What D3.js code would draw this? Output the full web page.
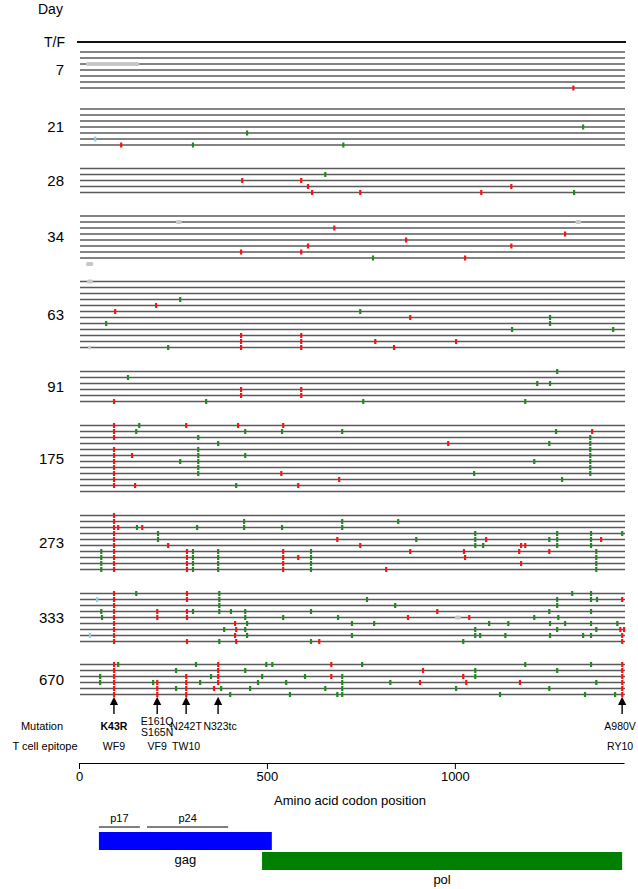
<!DOCTYPE html>
<html>
<head>
<meta charset="utf-8">
<script src="https://cdn.jsdelivr.net/npm/d3@7"></script>
<style>
  body { margin: 0; background: #fff; }
  svg text { font-family: "Liberation Sans", Arial, sans-serif; fill: #000; }
</style>
</head>
<body>
<div id="chart"></div>
<script>
var svgWidth = 638;
var svgHeight = 889;

// sampling days and number of sequences in each
var days = ["7", "21", "28", "34", "63", "91", "175", "273", "333", "670"];
var lineCounts = [7, 7, 5, 8, 12, 6, 12, 10, 9, 6];

// one string per sequence: r = red, g = green, c = cyan, x = grey gap (start:length)
var day7 = ["", "", "x19:141", "", "", "", "r1315"];
var day21 = ["", "", "", "g1341", "g447", "c43", "r112 g303 g703"];
var day28 = ["", "g655", "r434 r591", "r609 r1150", "r620 r748 r1070 g1317"];
var day34 = ["", "x258:15 x1321:15", "r679", "r1293", "r870", "r609 r1150",
  "r431 r591", "g782 r1027", "x19:19"];
var day63 = ["x21:16", "", "", "g269", "r205", "r96 g748", "r881 g1253", "g72 g1253",
  "g1152 g1421", "r431 r591", "r431 r591 r788 r1003", "x24:8 g237 r431 r591 r838"];
var day91 = ["g1272", "g130", "g1219 g1253", "r431 r591", "r431 r591", "r93 g338 g756 g1187"];
var day175 = [
  "r93 g160 r285 r423 r543",
  "r93 g152 g442 g540 g700 g1269 r1365",
  "r93 g317 g1360",
  "g370 r982 g1251 g1360",
  "r93 g317 g1360",
  "r93 r141 g317 g442 g1360",
  "r93 g269 g317 g1211 g1360",
  "r93 g317 g1360",
  "r93 g317 r538 g1051 g1360",
  "r93 r692 g1285",
  "r93 r149 g418 r583",
  ""
];
var day273 = [
  "r93",
  "r93 g439 g700 g849",
  "r93 r104 g154 r168 g314 g439 g540 g700",
  "r93 g210 g1054 g1272 g1362 g1445",
  "r93 g210 r687 g897 g1054 r1083 g1251 g1272 g1362 r1389",
  "r93 r237 r748 g1054 g1075 r1176 r1187 g1272 g1362",
  "g59 r93 r287 g303 g370 r543 g617 r881 r1024 r1171 r1251 g1376",
  "g59 r93 r287 g303 g370 r543 r583 g617 r1027 g1376",
  "g59 r93 r287 g303 g370 r543 g617 r1176 g1376",
  "g59 r93 r287 g303 g370 r543 g617 r817 g1376"
];
var day333 = [
  "r93 g152 r287 g373 g1312 g1362",
  "c48 r93 r287 g373 g766 g1272 g1362 g1378 r1445",
  "r93 g373 g841 g1272",
  "g59 r93 r208 r287 g303 g373 g404 g442 g617 r953 g1251 g1362",
  "g61 r93 r208 r287 g442 g543 g689 r875 x1000:16 r1038 g1211 g1275",
  "r93 r415 g447 g726 g785 g1091 g1142 g1253 g1293 g1362 g1432",
  "r93 g386 r418 g442 g1054 g1272 g1376 r1440 r1450",
  "c29 r93 r415 g447 g726 g1054 g1067 g1134 g1253 g1341 g1362 r1445",
  "r93 r287 g373 r418 g617 r639 g1022 r1445"
];
var day670 = [
  "r93 g104 g311 r370 g498 g514 r671 g753 g1187 g1362 r1445",
  "r93 g258 r370 g442 r915 g1054 g1272 r1445",
  "g56 r93 r285 g351 r370 g487 g601 r671 g700 r1022 g1054 r1445",
  "g56 r93 g197 r208 r285 g322 r370 g476 g551 g700 g828 r907 r1030 r1173 g1376 r1445",
  "r93 r208 g258 r285 r359 g378 g455 g655 g700 g1003 g1251 r1445",
  "r93 r208 r285 g402 g561 g687 g700 g1120 g1346 g1426 r1445"
];
var groups = [day7, day21, day28, day34, day63, day91, day175, day273, day333, day670];

// annotated mutations and epitopes
var mutationPos = [93, 208, 285, 370, 1445];
var mutationLabels = [["K43R"], ["E161Q", "S165N"], ["N242T"], ["N323tc"], ["A980V"]];
var epitopePos = [93, 208, 285, 1445];
var epitopeLabels = ["WF9", "VF9", "TW10", "RY10"];

// gene regions (codon start, end)
var proteinNames = ["p17", "p24"];
var proteinRanges = [[53, 162], [181, 397]];
var geneNames = ["gag", "pol"];
var geneRanges = [[53, 513], [487, 1445]];

var xTicks = [0, 500, 1000];

var colors = { r: "#ff1010", g: "#1f8a1f", c: "#8fd0ee", x: "#c8c8c8" };

var svg = d3.select("#chart").append("svg")
  .attr("width", svgWidth)
  .attr("height", svgHeight);

var x = d3.scaleLinear().domain([0, 1450]).range([79, 624]);

// row positions
var rowStep = 6;
var tfY = 42;
var gapsBefore = [10, 21, 23.5, 23.5, 23.5, 24, 24, 24, 24, 23];
var groupTop = [];
var yy = tfY;
lineCounts.forEach(function(n, i) {
  yy += gapsBefore[i];
  groupTop.push(yy);
  yy += (n - 1) * rowStep;
});

svg.append("text").attr("x", 38).attr("y", 14).attr("font-size", 14).text("Day");
svg.append("text").attr("x", 65).attr("y", 47).attr("text-anchor", "end")
  .attr("font-size", 14).text("T/F");
svg.append("line")
  .attr("x1", 77).attr("x2", 626).attr("y1", tfY).attr("y2", tfY)
  .attr("stroke", "#111").attr("stroke-width", 2);

groups.forEach(function(seqs, gi) {
  var top = groupTop[gi];
  var n = lineCounts[gi];
  var g = svg.append("g");
  var ys = d3.range(n).map(function(i) { return top + i * rowStep; });

  g.selectAll("line.seq").data(ys).enter().append("line")
    .attr("class", "seq")
    .attr("x1", 80).attr("x2", 625)
    .attr("y1", function(d) { return d; }).attr("y2", function(d) { return d; })
    .attr("stroke", "#5a5a5a").attr("stroke-width", 1.6);

  g.append("text")
    .attr("x", 64).attr("y", (ys[0] + ys[n - 1]) / 2 + 5)
    .attr("text-anchor", "end").attr("font-size", 15)
    .text(days[gi]);

  var marks = [];
  seqs.forEach(function(s, li) {
    s.split(" ").filter(function(t) { return t.length; }).forEach(function(t) {
      var kind = t[0];
      var rest = t.slice(1).split(":");
      marks.push({ y: top + li * rowStep, kind: kind, pos: +rest[0], len: rest[1] ? +rest[1] : 0 });
    });
  });

  g.selectAll("rect.gap").data(marks.filter(function(d) { return d.kind === "x"; }))
    .enter().append("rect")
    .attr("x", function(d) { return x(d.pos); })
    .attr("width", function(d) { return x(d.pos + d.len) - x(d.pos); })
    .attr("y", function(d) { return d.y - 2; })
    .attr("height", 4).attr("rx", 1.5)
    .attr("fill", colors.x);

  g.selectAll("rect.mut").data(marks.filter(function(d) { return d.kind !== "x"; }))
    .enter().append("rect")
    .attr("x", function(d) { return x(d.pos) - 1; })
    .attr("width", 2.2)
    .attr("y", function(d) { return d.y - 2.5; })
    .attr("height", 5)
    .attr("fill", function(d) { return colors[d.kind]; });
});

// arrows and annotations
var defs = svg.append("defs");
defs.append("marker").attr("id", "head")
  .attr("viewBox", "0 0 10 10").attr("refX", 5).attr("refY", 5)
  .attr("markerWidth", 6).attr("markerHeight", 7).attr("orient", "auto")
  .append("path").attr("d", "M0,0 L10,5 L0,10 Z").attr("fill", "#000");

svg.selectAll("line.arrow").data(mutationPos).enter().append("line")
  .attr("x1", function(d) { return x(d); }).attr("x2", function(d) { return x(d); })
  .attr("y1", 714).attr("y2", 701)
  .attr("stroke", "#000").attr("stroke-width", 1.4)
  .attr("marker-end", "url(#head)");

svg.append("text").attr("x", 42).attr("y", 730).attr("text-anchor", "middle")
  .attr("font-size", 11).text("Mutation");
svg.append("text").attr("x", 45).attr("y", 750).attr("text-anchor", "middle")
  .attr("font-size", 11).text("T cell epitope");

mutationPos.forEach(function(p, i) {
  var lines = mutationLabels[i];
  var ax = x(p);
  if (i === mutationPos.length - 1) ax = x(p) - 2;
  if (i === 3) ax = x(p) + 2;
  lines.forEach(function(txt, j) {
    svg.append("text")
      .attr("x", ax)
      .attr("y", lines.length > 1 ? 725 + j * 11 : 730)
      .attr("text-anchor", "middle").attr("font-size", 10.5)
      .attr("font-weight", i === 0 ? "bold" : "normal")
      .text(txt);
  });
});

epitopePos.forEach(function(p, i) {
  svg.append("text")
    .attr("x", i === epitopePos.length - 1 ? x(p) - 2 : x(p)).attr("y", 750)
    .attr("text-anchor", "middle").attr("font-size", 10.5)
    .text(epitopeLabels[i]);
});

// x axis
var xAxis = d3.axisBottom(x).tickValues(xTicks).tickFormat(d3.format("d"))
  .tickSize(6).tickSizeOuter(0);
var axisG = svg.append("g").attr("transform", "translate(0, 763)").call(xAxis);
axisG.select(".domain").attr("stroke", "#000").attr("stroke-width", 1.2);
axisG.selectAll(".tick text").attr("font-size", 13)
  .attr("font-family", "Liberation Sans, Arial, sans-serif");

svg.append("text").attr("x", 350).attr("y", 805).attr("text-anchor", "middle")
  .attr("font-size", 13).text("Amino acid codon position");

// protein and gene bars
proteinRanges.forEach(function(r, i) {
  svg.append("line")
    .attr("x1", x(r[0])).attr("x2", x(r[1]))
    .attr("y1", 827).attr("y2", 827)
    .attr("stroke", "#000").attr("stroke-width", 1.2);
  svg.append("text")
    .attr("x", (x(r[0]) + x(r[1])) / 2).attr("y", 822)
    .attr("text-anchor", "middle").attr("font-size", 11)
    .text(proteinNames[i]);
});

var geneColors = ["#0000ff", "#008000"];
var geneY = [832, 852];
geneRanges.forEach(function(r, i) {
  svg.append("rect")
    .attr("x", x(r[0])).attr("width", x(r[1]) - x(r[0]))
    .attr("y", geneY[i]).attr("height", 18)
    .attr("fill", geneColors[i]);
  svg.append("text")
    .attr("x", (x(r[0]) + x(r[1])) / 2).attr("y", geneY[i] + 32)
    .attr("text-anchor", "middle").attr("font-size", 13)
    .text(geneNames[i]);
});
</script>
</body>
</html>
